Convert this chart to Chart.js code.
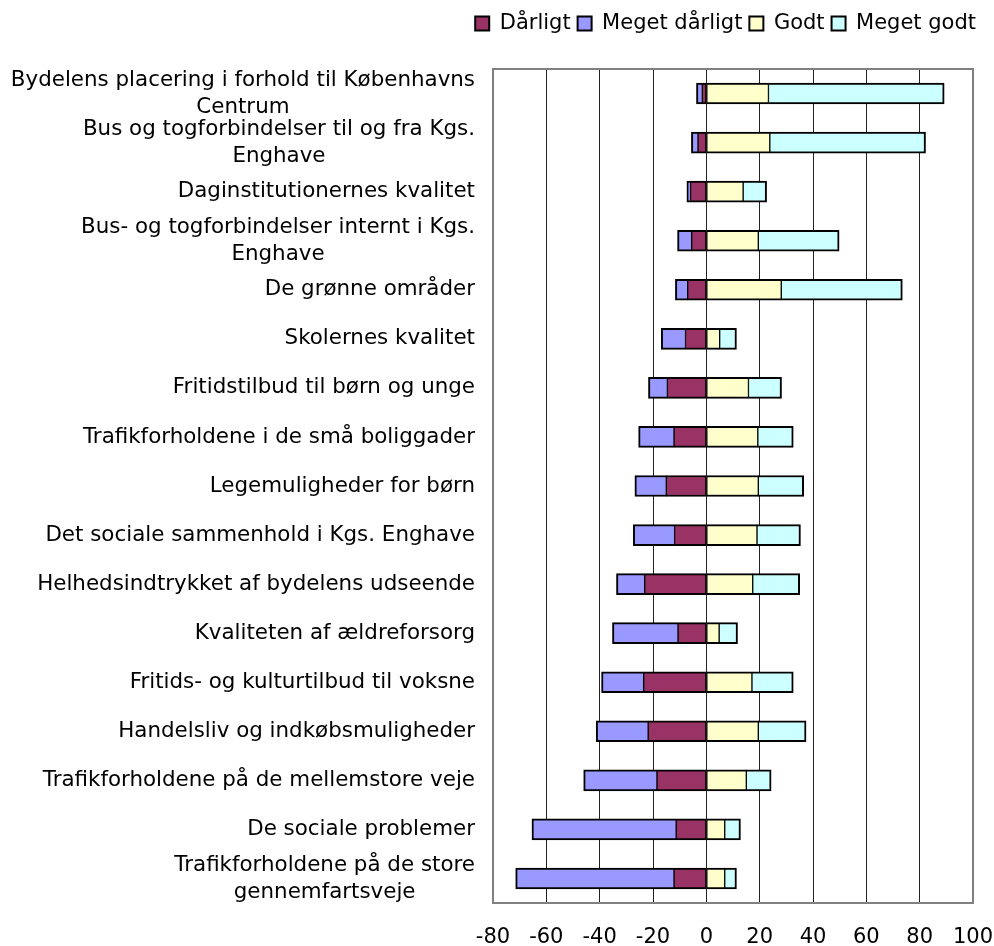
<!DOCTYPE html>
<html>
<head>
<meta charset="utf-8">
<script src="https://cdn.jsdelivr.net/npm/chart.js@4.4.1/dist/chart.umd.min.js"></script>
<style>
  html, body { margin: 0; padding: 0; background: #ffffff; }
  #wrap { width: 994px; height: 946px; }
</style>
</head>
<body>
<div id="wrap"><canvas id="c" width="994" height="946"></canvas></div>
<script>
const categories = [
  ["Bydelens placering i forhold til Københavns", "Centrum"],
  ["Bus og togforbindelser til og fra Kgs.", "Enghave"],
  "Daginstitutionernes kvalitet",
  ["Bus- og togforbindelser internt i Kgs.", "Enghave"],
  "De grønne områder",
  "Skolernes kvalitet",
  "Fritidstilbud til børn og unge",
  "Trafikforholdene i de små boliggader",
  "Legemuligheder for børn",
  "Det sociale sammenhold i Kgs. Enghave ",
  "Helhedsindtrykket af bydelens udseende",
  "Kvaliteten af ældreforsorg",
  "Fritids- og kulturtilbud til voksne",
  "Handelsliv og indkøbsmuligheder",
  "Trafikforholdene på de mellemstore veje",
  "De sociale problemer",
  ["Trafikforholdene på de store", "gennemfartsveje"]
];
const seriesNames = ["Dårligt", "Meget dårligt", "Godt", "Meget godt"];
const darligt      = [-1.5, -3.1, -5.9, -5.5, -7.0, -7.8, -14.6, -12.1, -15.0, -11.9, -23.1, -10.6, -23.5, -21.8, -18.5, -11.3, -12.1];
const megetDarligt = [-2.2, -2.5, -1.4, -5.3, -4.6, -9.1, -7.1, -13.3, -11.8, -15.5, -10.6, -24.6, -15.8, -19.5, -27.5, -54.1, -59.4];
const godt         = [23.3, 23.8, 13.8, 19.5, 28.1, 5.0, 15.8, 19.3, 19.5, 19.0, 17.4, 4.8, 17.1, 19.5, 15.0, 6.9, 6.9];
const megetGodt    = [65.9, 58.4, 8.8, 30.3, 45.4, 6.3, 12.4, 13.3, 17.0, 16.3, 17.6, 6.9, 15.5, 17.9, 9.3, 5.9, 4.4];
const xTicks = [-80, -60, -40, -20, 0, 20, 40, 60, 80, 100];

const FONT = '"DejaVu Sans", Verdana, sans-serif';
const FS_CAT = 21.4;
const FS = 21;

const legendTweak = {
  id: 'legendTweak',
  beforeInit(chart) {
    const lg = chart.legend;
    if (lg) {
      const origFit = lg.fit;
      lg.fit = function () { origFit.call(this); this.height += 25; };
      const origDraw = lg.draw;
      lg.draw = function () {
        const ctx = this.ctx;
        ctx.save();
        ctx.translate(-11, 0);
        origDraw.call(this);
        ctx.restore();
      };
    }
  }
};

const labelPlugin = {
  id: 'catLabels',
  afterDraw(chart) {
    const ctx = chart.ctx;
    const ys = chart.scales.y;
    const area = chart.chartArea;
    ctx.save();
    ctx.strokeStyle = '#808080';
    ctx.lineWidth = 2;
    ctx.strokeRect(area.left, area.top, area.right - area.left, area.bottom - area.top);
    ctx.font = FS_CAT + 'px ' + FONT;
    ctx.fillStyle = '#000000';
    ctx.textAlign = 'center';
    ctx.textBaseline = 'middle';
    const rightX = area.left - 18;
    const lineH = 27;
    categories.forEach((lab, i) => {
      const lines = Array.isArray(lab) ? lab : [lab];
      const y = ys.getPixelForTick(i);
      const w = Math.max(...lines.map(l => ctx.measureText(l.trimEnd()).width));
      const cx = rightX - w / 2;
      lines.forEach((l, j) => {
        ctx.fillText(l.trimEnd(), cx, y + (j - (lines.length - 1) / 2) * lineH);
      });
    });
    ctx.restore();
  }
};

const colors = ['#993366', '#9999FF', '#FFFFCC', '#CCFFFF'];
const borders = [
  {top: 2, bottom: 2, left: 1, right: 1},
  {top: 2, bottom: 2, left: 2, right: 1},
  {top: 2, bottom: 2, left: 1, right: 1},
  {top: 2, bottom: 2, left: 1, right: 2}
];
const seriesData = [darligt, megetDarligt, godt, megetGodt];

new Chart(document.getElementById('c'), {
  type: 'bar',
  data: {
    labels: categories,
    datasets: seriesNames.map((n, k) => ({
      label: n,
      data: seriesData[k],
      backgroundColor: colors[k],
      borderColor: '#000000',
      borderWidth: borders[k],
      borderSkipped: false,
      barThickness: 21
    }))
  },
  options: {
    indexAxis: 'y',
    responsive: false,
    animation: false,
    layout: { padding: { top: 6, right: 0, bottom: 0, left: 0 } },
    plugins: {
      tooltip: { enabled: false },
      legend: {
        position: 'top',
        align: 'end',
        labels: {
          font: { family: FONT, size: FS },
          color: '#000000',
          boxWidth: 14,
          boxHeight: 14,
          padding: 7,
          generateLabels(chart) {
            const items = Chart.defaults.plugins.legend.labels.generateLabels(chart);
            items.forEach(it => { it.lineWidth = 2; it.strokeStyle = '#000000'; });
            return items;
          }
        }
      }
    },
    scales: {
      x: {
        type: 'linear',
        stacked: true,
        min: -80,
        max: 100,
        afterBuildTicks(scale) { scale.ticks = xTicks.map(v => ({ value: v })); },
        afterFit(scale) { scale.height = 43; scale.paddingRight = 21; scale.paddingLeft = 0; },
        ticks: {
          font: { family: FONT, size: FS, lineHeight: 0.9 },
          color: '#000000',
          padding: 25,
          maxRotation: 0
        },
        grid: { color: '#222222', lineWidth: 1, drawTicks: false, tickLength: 0 },
        border: { display: false }
      },
      y: {
        stacked: true,
        ticks: { display: false },
        grid: { display: false },
        border: { display: false },
        afterFit(scale) { scale.width = 493; scale.paddingTop = 0; scale.paddingBottom = 0; }
      }
    }
  },
  plugins: [legendTweak, labelPlugin]
});
</script>
</body>
</html>
